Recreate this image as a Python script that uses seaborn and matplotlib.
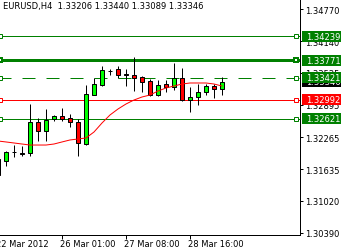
import numpy as np
import pandas as pd
import matplotlib
matplotlib.use("Agg")
import matplotlib.pyplot as plt
import matplotlib.patches as mpatches
import matplotlib.transforms as mtransforms
import seaborn as sns

# ---------------- data ----------------
symbol = "EURUSD,H4"
candle_idx = list(range(1, 30))
opens = [1.31834, 1.31795, 1.31971, 1.31961, 1.31952, 1.32559, 1.32382, 1.32617, 1.32676, 1.32637,
         1.32559, 1.32128, 1.33087, 1.33283, 1.33557, 1.33596, 1.33498, 1.33478, 1.33439, 1.33361,
         1.33087, 1.33302, 1.33244, 1.33429, 1.32989, 1.33048, 1.33136, 1.33263, 1.33206]
highs = [1.31874, 1.31991, 1.32108, 1.32089, 1.32911, 1.32637, 1.32813, 1.32696, 1.32833, 1.32715,
         1.32617, 1.33283, 1.33420, 1.33655, 1.33596, 1.33655, 1.33596, 1.33831, 1.33459, 1.33400,
         1.33381, 1.33381, 1.33713, 1.33615, 1.33244, 1.33302, 1.33302, 1.33302, 1.33440]
lows = [1.31482, 1.31698, 1.31874, 1.31893, 1.31893, 1.32187, 1.32187, 1.32578, 1.32578, 1.32461,
        1.31893, 1.32108, 1.33087, 1.33263, 1.33478, 1.33420, 1.33263, 1.33165, 1.33146, 1.33067,
        1.33067, 1.33146, 1.33185, 1.32979, 1.32754, 1.32891, 1.33087, 1.33028, 1.33089]
closes = [1.31521, 1.31971, 1.31971, 1.31942, 1.32559, 1.32382, 1.32598, 1.32676, 1.32617, 1.32559,
          1.32148, 1.33107, 1.33302, 1.33576, 1.33557, 1.33478, 1.33469, 1.33420, 1.33341, 1.33087,
          1.33292, 1.33244, 1.33420, 1.32989, 1.33048, 1.33146, 1.33263, 1.33204, 1.33346]
ma_values = [1.32187, 1.32168, 1.32148, 1.32128, 1.32108, 1.32108, 1.32108, 1.32128, 1.32168, 1.32207,
             1.32226, 1.32246, 1.32363, 1.32539, 1.32696, 1.32813, 1.32911, 1.32989, 1.33048, 1.33087,
             1.33165, 1.33224, 1.33263, 1.33302, 1.33322, 1.33322, 1.33322, 1.33302, 1.33263]
level_prices = [1.34239, 1.33771, 1.33421, 1.32992, 1.32621]
level_colors = ["#008000", "#008000", "#008000", "#FF0000", "#008000"]
level_styles = ["solid", "thick", "dashed", "solid", "solid"]
bid_price = 1.33346
ytick_values = [1.34770, 1.34140, 1.33525, 1.32895, 1.32265, 1.31635, 1.31020, 1.30390]
xtick_pos = [1, 9, 17, 25]
xtick_labels = ["22 Mar 2012", "26 Mar 01:00", "27 Mar 08:00", "28 Mar 16:00"]

# ---------------- style ----------------
sns.set_style("white")
plt.rcParams['font.family'] = ['DejaVu Sans']
FS = 6
W, H = 341, 253
PX = 72.0 / 100.0  # one pixel in points

fig = plt.figure(figsize=(W / 100, H / 100), dpi=100)
fig.patch.set_facecolor("white")
ax = fig.add_axes([0, 17 / H, 300 / W, 236 / H])
ax.set_facecolor("white")

ymin, ymax = 1.303473, 1.349657
ax.set_xlim(1.25, 38.75)
ax.set_ylim(ymin, ymax)
px_price = (ymax - ymin) / 236.0

# horizontal levels
for p, c, s in zip(level_prices, level_colors, level_styles):
    lw = 3 * PX if s == "thick" else PX
    ls = (2, (13, 11)) if s == "dashed" else "solid"
    ax.axhline(p, color=c, lw=lw, ls=ls, zorder=1)
    ax.plot([1.19, 38.25], [p, p], ls="none", marker="s", ms=4 * PX,
            mfc="white", mec=c, mew=(2 * PX if s == "thick" else PX),
            clip_on=False, zorder=6)

# candles
df = pd.DataFrame({"i": candle_idx, "open": opens, "high": highs,
                   "low": lows, "close": closes, "ma": ma_values})
ax.vlines(df["i"], df["low"], df["high"], colors="black", lw=PX, zorder=3)
bull = df["close"] >= df["open"]
body_bottom = np.minimum(df["open"], df["close"])
body_h = np.abs(df["close"] - df["open"])
ax.bar(df["i"][bull], body_h[bull], bottom=body_bottom[bull], width=0.5,
       color="#00FF00", edgecolor="black", lw=PX, zorder=4)
ax.bar(df["i"][~bull], body_h[~bull], bottom=body_bottom[~bull], width=0.5,
       color="#FF0000", edgecolor="black", lw=PX, zorder=4)

# moving average
sns.lineplot(data=df, x="i", y="ma", color="#FF0000", lw=PX, ax=ax, zorder=5)
ax.set_xlabel("")
ax.set_ylabel("")

# axes and ticks
for side in ["top", "left"]:
    ax.spines[side].set_visible(False)
for side in ["right", "bottom"]:
    ax.spines[side].set_color("black")
    ax.spines[side].set_linewidth(PX)
ax.yaxis.tick_right()
ax.set_yticks(ytick_values)
ax.set_yticklabels([f"{v:.5f}" for v in ytick_values])
ax.tick_params(axis="y", direction="out", length=3 * PX, width=PX, pad=1.2,
               labelsize=FS, colors="black", right=True, left=False)
ax.set_xticks(xtick_pos[1:])
ax.set_xticklabels([])
ax.tick_params(axis="x", direction="out", length=4 * PX, width=PX, colors="black",
               bottom=True)

trans_x = mtransforms.blended_transform_factory(ax.transData, ax.transAxes)
trans_x = mtransforms.offset_copy(trans_x, fig=fig, x=-2, y=-9, units="dots")
for xp, lab in zip(xtick_pos, xtick_labels):
    ax.text(xp, 0, lab, transform=trans_x, ha="left", va="center",
            fontsize=FS, color="black", clip_on=False)

# header
fig.text(3 / W, 1 - 7 / H,
         f"{symbol}  {opens[-1]:.5f} {highs[-1]:.5f} {lows[-1]:.5f} {closes[-1]:.5f}",
         fontsize=FS, color="black", ha="left", va="center")

# price boxes on the right (bid box first, level boxes stacked on top)
trans_box = mtransforms.blended_transform_factory(fig.transFigure, ax.transData)
box_h = 11 * px_price
box_x = 302 / W
boxes = [(bid_price, "black")] + list(zip(level_prices, level_colors))
for k, (p, c) in enumerate(boxes):
    rect = mpatches.Rectangle((box_x, p - box_h / 2), 1 - box_x, box_h,
                              transform=trans_box, facecolor=c, edgecolor="none",
                              zorder=5 + 2 * k, clip_on=False)
    fig.add_artist(rect)
    fig.text(306 / W, p, f"{p:.5f}", transform=trans_box, fontsize=FS,
             color="white", ha="left", va="center", zorder=6 + 2 * k)

fig.savefig("out.png", dpi=100)
